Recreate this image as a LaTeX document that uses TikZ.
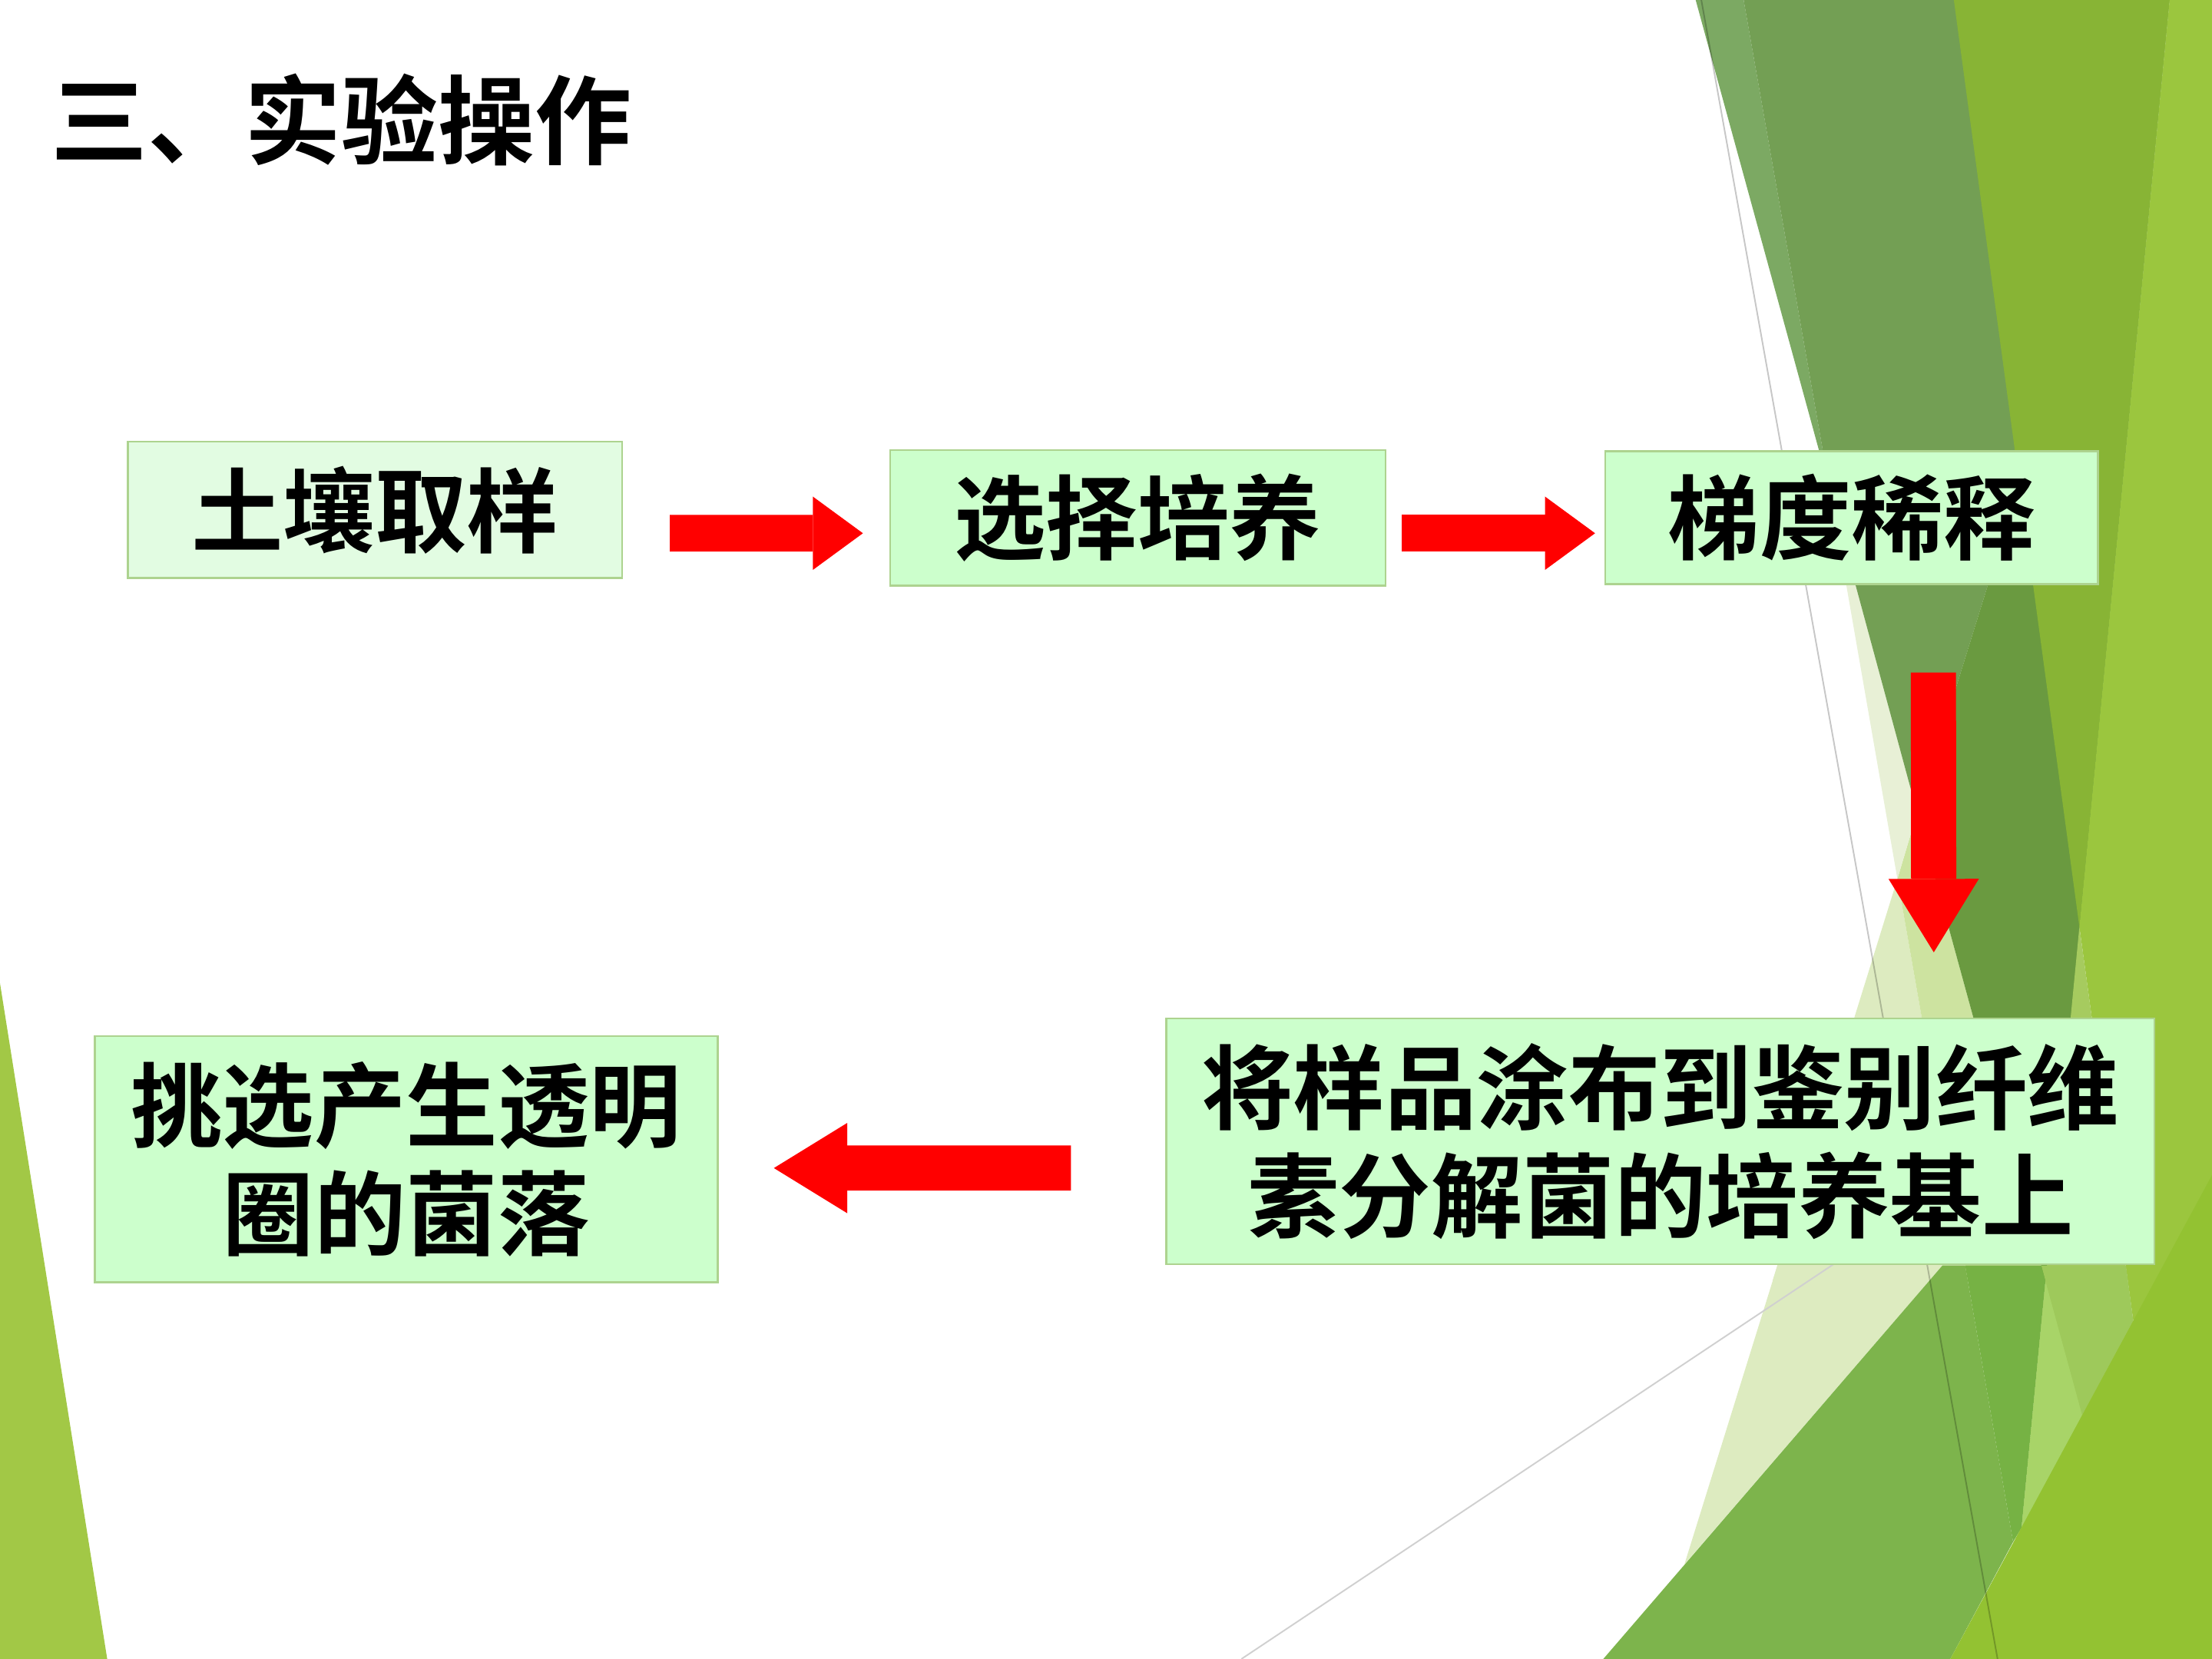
\documentclass[tikz,border=0pt]{standalone}
\usepackage{fontspec}
\newfontfamily\cjk{Noto Sans CJK SC}[BoldFont={Noto Sans CJK SC Bold}]
\usetikzlibrary{arrows.meta}
\usepackage{xcolor}

\definecolor{boxfill}{HTML}{CCFFCC}
\definecolor{boxfirst}{HTML}{E2FCE2}
\definecolor{boxline}{HTML}{ADD38F}
\definecolor{arrowred}{HTML}{FF0000}
\definecolor{gridgray}{HTML}{D0D0D0}
% facet colours
\definecolor{paleA}{HTML}{DDEBC0}
\definecolor{paleB}{HTML}{CDE3A0}
\definecolor{paleC}{HTML}{E8F0D6}
\definecolor{darkA}{HTML}{7CA963}
\definecolor{darkB}{HTML}{739F54}
\definecolor{darkC}{HTML}{6A9A40}
\definecolor{darkD}{HTML}{5A9432}
\definecolor{limeA}{HTML}{88B435}
\definecolor{limeB}{HTML}{9BC63E}
\definecolor{limeC}{HTML}{A6CB5F}
\definecolor{limeD}{HTML}{A8D468}
\definecolor{limeE}{HTML}{9EC95B}
\definecolor{limeF}{HTML}{93C232}
\definecolor{limeG}{HTML}{A2C846}
\definecolor{midA}{HTML}{7DB44C}
\definecolor{midB}{HTML}{76B244}

\tikzset{
  stepbox/.style={draw=boxline, fill=boxfill, line width=0.4pt, inner sep=0pt,
    align=center, font=\cjk\bfseries\fontsize{18.5}{21.8}\selectfont},
  titletext/.style={inner sep=0pt, font=\cjk\bfseries\fontsize{19.5}{19.5}\selectfont},
  flowarrow/.style={draw=arrowred, line width=0.26cm,
    -{Triangle[length=0.355cm, width=0.52cm, line width=0pt]}},
  bigarrow/.style={draw=arrowred, line width=0.32cm,
    -{Triangle[length=0.52cm, width=0.64cm, line width=0pt]}},
  facet/.style={fill=#1, draw=none}
}

\begin{document}
\begin{tikzpicture}[x=0.01cm, y=-0.01cm]
	\useasboundingbox (0,0) rectangle (1568,1176);
	\fill[white] (0,0) rectangle (1568,1176);
	% background facets, upper right
	\fill[facet=paleA] (1345,623) -- (1395,908) -- (1256.5,908) -- cycle;
	\fill[facet=paleB] (1345,623) -- (1359,576) -- (1450,908) -- (1395,908) -- cycle;
	\fill[facet=paleC] (1297,347) -- (1359,576) -- (1345,623) -- cycle;
	\fill[facet=darkA] (1202,0) -- (1236,0) -- (1297,347) -- cycle;
	\fill[facet=darkB] (1236,0) -- (1538,0) -- (1359,576) -- (1297,347) -- cycle;
	\fill[facet=darkC] (1538,0) -- (1450,908) -- (1359,576) -- cycle;
	\fill[facet=limeA] (1385,0) -- (1538,0) -- (1474,657) -- cycle;
	\fill[facet=limeB] (1538,0) -- (1568,0) -- (1568,1176) -- (1545,1176) -- (1474,657) -- cycle;
	\fill[facet=limeC] (1474,657) -- (1545,1176) -- (1424,1176) -- cycle;
	% background facets, lower right
	\fill[facet=paleA] (1260,897) -- (1377,897) -- (1194,1109) -- cycle;
	\fill[facet=midA] (1377,897) -- (1393,897) -- (1427,1093) -- (1382.5,1176) -- (1136.5,1176) -- cycle;
	\fill[facet=midB] (1393,897) -- (1451,897) -- (1433,1083) -- (1427,1093) -- cycle;
	\fill[facet=darkD] (1447,897) -- (1451,897) -- (1450,908) -- cycle;
	\fill[facet=limeD] (1450,908) -- (1433,1083) -- (1476,1003) -- cycle;
	\fill[facet=limeE] (1447,897) -- (1507,897) -- (1512,936) -- (1476,1003) -- (1450,908) -- cycle;
	\fill[facet=limeF] (1382.5,1176) -- (1568,833) -- (1568,1176) -- cycle;
	\fill[facet=limeG] (0,697) -- (76,1176) -- (0,1176) -- cycle;
	\draw[gridgray, line width=0.3pt] (880,1176) -- (1300,896);
	\draw[black, draw opacity=0.22, line width=0.3pt] (1206,0) -- (1416,1176);

	% title, steps and arrows
	\node[titletext] (title) at (242,85) {三、实验操作};
	\node[stepbox, fill=boxfirst, minimum width=3.5cm, minimum height=0.967cm] (soil) at (265.8,361.4) {土壤取样};
	\node[stepbox, minimum width=3.51cm, minimum height=0.96cm] (select) at (806.5,367) {选择培养};
	\node[stepbox, minimum width=3.49cm, minimum height=0.94cm] (dilute) at (1312.5,367) {梯度稀释};
	\node[stepbox, minimum width=7cm, minimum height=1.74cm] (spread) at (1177,809) {将样品涂布到鉴别纤维\\素分解菌的培养基上};
	\node[stepbox, minimum width=4.415cm, minimum height=1.745cm] (pick) at (288,821.7) {挑选产生透明\\圈的菌落};

	\draw[flowarrow] ([shift={(33.2,16.6)}]soil.east) -- ([shift={(-18.5,11)}]select.west);
	\draw[flowarrow] ([shift={(11,11)}]select.east) -- ([shift={(-6.5,11)}]dilute.west);
	\draw[bigarrow] ([shift={(58,62)}]dilute.south) -- ([shift={(193.8,-46.2)}]spread.north);
	\draw[bigarrow] ([shift={(-67,19)}]spread.west) -- ([shift={(39,6.3)}]pick.east);
\end{tikzpicture}
\end{document}
